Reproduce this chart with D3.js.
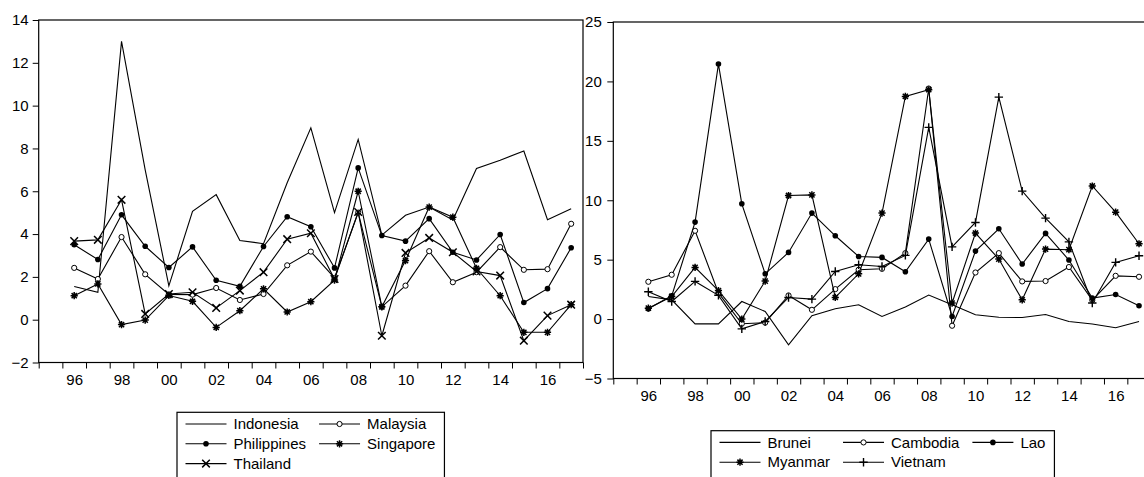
<!DOCTYPE html>
<html>
<head>
<meta charset="utf-8">
<script src="https://cdn.jsdelivr.net/npm/d3@7/dist/d3.min.js"></script>
<style>
  body { margin: 0; background: #fff; }
  svg text { font-family: "Liberation Sans", Arial, sans-serif; font-size: 15px; fill: #000; }
</style>
</head>
<body>
<svg id="chart" width="1144" height="477"></svg>
<script>
// years on the axis (1995 is an empty slot at the start)
var years = [1996, 1997, 1998, 1999, 2000, 2001, 2002, 2003, 2004, 2005, 2006,
             2007, 2008, 2009, 2010, 2011, 2012, 2013, 2014, 2015, 2016, 2017];
var yearLabels = [1996, 1998, 2000, 2002, 2004, 2006, 2008, 2010, 2012, 2014, 2016];

// left panel
var indonesia   = [1.55, 1.28, 13.0, 7.0, 1.58, 5.06, 5.84, 3.70, 3.55, 6.4, 8.96, 5.0, 8.42, 3.95, 4.88, 5.26, 4.66, 7.06, 7.45, 7.88, 4.67, 5.18];
var malaysia    = [2.42, 1.90, 3.86, 2.12, 1.18, 1.17, 1.48, 0.92, 1.20, 2.54, 3.18, 1.95, 5.0, 0.60, 1.59, 3.20, 1.75, 2.22, 3.39, 2.33, 2.36, 4.48];
var philippines = [3.50, 2.81, 4.90, 3.43, 2.44, 3.40, 1.84, 1.56, 3.42, 4.81, 4.34, 2.42, 7.09, 3.93, 3.67, 4.72, 3.15, 2.79, 3.98, 0.80, 1.45, 3.36];
var singapore   = [1.12, 1.67, -0.23, -0.02, 1.13, 0.86, -0.36, 0.42, 1.44, 0.36, 0.84, 1.85, 6.0, 0.60, 2.76, 5.26, 4.79, 2.40, 1.12, -0.59, -0.59, 0.70];
var thailand    = [3.67, 3.73, 5.60, 0.27, 1.20, 1.28, 0.55, 1.36, 2.22, 3.76, 4.04, 1.90, 5.03, -0.75, 3.12, 3.82, 3.15, 2.25, 2.06, -0.98, 0.19, 0.70];
var leftYTicks = [-2, 0, 2, 4, 6, 8, 10, 12, 14];

// right panel
var brunei   = [1.90, 1.62, -0.40, -0.40, 1.48, 0.64, -2.16, 0.28, 0.87, 1.20, 0.22, 1.01, 2.02, 1.20, 0.36, 0.16, 0.13, 0.38, -0.20, -0.42, -0.73, -0.20];
var cambodia = [3.14, 3.73, 7.43, 2.20, -0.39, -0.30, 1.99, 0.78, 2.52, 4.15, 4.23, 5.55, 19.4, -0.56, 3.92, 5.55, 3.17, 3.20, 4.38, 1.60, 3.64, 3.56];
var lao      = [0.87, 1.96, 8.16, 21.46, 9.70, 3.81, 5.61, 8.92, 7.01, 5.27, 5.19, 3.98, 6.73, 0.22, 5.72, 7.60, 4.63, 7.21, 4.97, 1.77, 2.07, 1.12];
var myanmar  = [0.92, 1.90, 4.35, 2.40, 0.00, 3.20, 10.40, 10.45, 1.82, 3.81, 8.92, 18.74, 19.3, 1.35, 7.24, 5.05, 1.62, 5.89, 5.84, 11.2, 9.00, 6.34];
var vietnam  = [2.30, 1.48, 3.17, 2.00, -0.82, -0.20, 1.82, 1.68, 4.01, 4.57, 4.42, 5.36, 16.13, 6.08, 8.13, 18.68, 10.77, 8.50, 6.50, 1.35, 4.77, 5.33];
var rightYTicks = [-5, 0, 5, 10, 15, 20, 25];

var svg = d3.select("#chart");

// draws a marker of the given kind at (0,0) inside g
function addMarker(g, kind) {
    if (kind == "dot") {
        g.append("circle").attr("r", 2.8).attr("fill", "#000");
    } else if (kind == "circle") {
        g.append("circle").attr("r", 2.6).attr("fill", "#fff").attr("stroke", "#000").attr("stroke-width", 1);
    } else if (kind == "x") {
        var s = 3.8;
        g.append("path").attr("d", "M" + (-s) + "," + (-s) + "L" + s + "," + s + "M" + (-s) + "," + s + "L" + s + "," + (-s))
            .attr("stroke", "#000").attr("stroke-width", 1.5);
    } else if (kind == "plus") {
        var p = 4.2;
        g.append("path").attr("d", "M" + (-p) + ",0L" + p + ",0M0," + (-p) + "L0," + p)
            .attr("stroke", "#000").attr("stroke-width", 1.4);
    } else if (kind == "star") {
        var a = 3.6, b = 2.6;
        g.append("path").attr("d", "M0," + (-a) + "L0," + a + "M" + (-a) + ",0L" + a + ",0" +
                "M" + (-b) + "," + (-b) + "L" + b + "," + b + "M" + (-b) + "," + b + "L" + b + "," + (-b))
            .attr("stroke", "#000").attr("stroke-width", 1.5);
    }
}

function drawPanel(cfg) {
    var x = d3.scaleLinear().domain([1995, 2018]).range([cfg.left, cfg.right]);
    var y = d3.scaleLinear().domain(cfg.yDomain).range([cfg.bottom, cfg.top]);
    var panel = svg.append("g");

    // series lines and markers
    cfg.series.forEach(function (s) {
        var pts = years.map(function (yr, i) { return [yr, s.values[i]]; });
        var line = d3.line()
            .x(function (d) { return x(d[0] + 0.5); })
            .y(function (d) { return y(d[1]); });
        panel.append("path").datum(pts)
            .attr("d", line)
            .attr("fill", "none")
            .attr("stroke", "#000")
            .attr("stroke-width", 1.1)
            .attr("stroke-linejoin", "miter");
        if (s.marker != "none") {
            panel.selectAll(null).data(pts).enter().append("g")
                .attr("transform", function (d) { return "translate(" + x(d[0] + 0.5) + "," + y(d[1]) + ")"; })
                .each(function () { addMarker(d3.select(this), s.marker); });
        }
    });

    // frame
    panel.append("rect")
        .attr("x", cfg.left).attr("y", cfg.top)
        .attr("width", cfg.right - cfg.left).attr("height", cfg.bottom - cfg.top)
        .attr("fill", "none").attr("stroke", "#000").attr("stroke-width", 1.2);

    // y axis
    var yAxis = panel.append("g").attr("transform", "translate(" + cfg.left + ",0)")
        .call(d3.axisLeft(y).tickValues(cfg.yTicks).tickSize(6).tickPadding(cfg.yPad).tickFormat(d3.format("d")));
    yAxis.select(".domain").remove();
    yAxis.selectAll("text").attr("font-size", null).attr("font-family", null);

    // x tick marks at every year boundary
    var xTicks = panel.append("g").attr("transform", "translate(0," + cfg.bottom + ")")
        .call(d3.axisBottom(x).tickValues(d3.range(1995, 2019)).tickSize(6).tickFormat(""));
    xTicks.select(".domain").remove();

    // year labels centred in the slots
    var xLabels = panel.append("g").attr("transform", "translate(0," + cfg.bottom + ")")
        .call(d3.axisBottom(x).tickValues(yearLabels.map(function (v) { return v + 0.5; }))
            .tickSize(0).tickPadding(12)
            .tickFormat(function (v) { var n = Math.floor(v) % 100; return n < 10 ? "0" + n : "" + n; }));
    xLabels.select(".domain").remove();
    xLabels.selectAll("text").attr("font-size", null).attr("font-family", null);

    // legend
    var lg = cfg.legend;
    var box = panel.append("g");
    var ncol = lg.cols;
    var colWidths = [];
    var tmp = cfg.series.map(function (s) {
        var t = svg.append("text").text(s.name);
        var w = t.node().getComputedTextLength();
        t.remove();
        return w;
    });
    for (var c = 0; c < ncol; c++) {
        var m = 0;
        cfg.series.forEach(function (s, i) { if (i % ncol == c) m = Math.max(m, tmp[i]); });
        colWidths.push(m);
    }
    var lineLen = 41, textGap = 7, colGap = 13, padL = 8.5, padR = 9;
    var colX = [];
    var cx = lg.x + padL;
    colWidths.forEach(function (w) { colX.push(cx); cx += lineLen + textGap + w + colGap; });
    var boxRight = cx - colGap + padR;
    box.append("rect")
        .attr("x", lg.x).attr("y", lg.y)
        .attr("width", boxRight - lg.x).attr("height", 90)
        .attr("fill", "#fff").attr("stroke", "#000").attr("stroke-width", 1.2);
    cfg.series.forEach(function (s, i) {
        var col = i % ncol, row = Math.floor(i / ncol);
        var ly = lg.y + 11.7 + row * 19.8;
        var lx = colX[col];
        box.append("line").attr("x1", lx).attr("x2", lx + lineLen).attr("y1", ly).attr("y2", ly)
            .attr("stroke", "#000").attr("stroke-width", 1.1);
        if (s.marker != "none") {
            addMarker(box.append("g").attr("transform", "translate(" + (lx + lineLen / 2) + "," + ly + ")"), s.marker);
        }
        box.append("text").attr("x", lx + lineLen + textGap).attr("y", ly).attr("dy", "0.35em").text(s.name);
    });
}

drawPanel({
    left: 38.7, right: 583, top: 20, bottom: 362.5,
    yDomain: [-2, 14], yTicks: leftYTicks, yPad: 4,
    series: [
        {name: "Indonesia", values: indonesia, marker: "none"},
        {name: "Malaysia", values: malaysia, marker: "circle"},
        {name: "Philippines", values: philippines, marker: "dot"},
        {name: "Singapore", values: singapore, marker: "star"},
        {name: "Thailand", values: thailand, marker: "x"}
    ],
    legend: {x: 177, y: 412.3, cols: 2}
});

drawPanel({
    left: 613.3, right: 1150.7, top: 22, bottom: 378.5,
    yDomain: [-5, 25], yTicks: rightYTicks, yPad: 5.5,
    series: [
        {name: "Brunei", values: brunei, marker: "none"},
        {name: "Cambodia", values: cambodia, marker: "circle"},
        {name: "Lao", values: lao, marker: "dot"},
        {name: "Myanmar", values: myanmar, marker: "star"},
        {name: "Vietnam", values: vietnam, marker: "plus"}
    ],
    legend: {x: 711, y: 430.7, cols: 3}
});
</script>
</body>
</html>
